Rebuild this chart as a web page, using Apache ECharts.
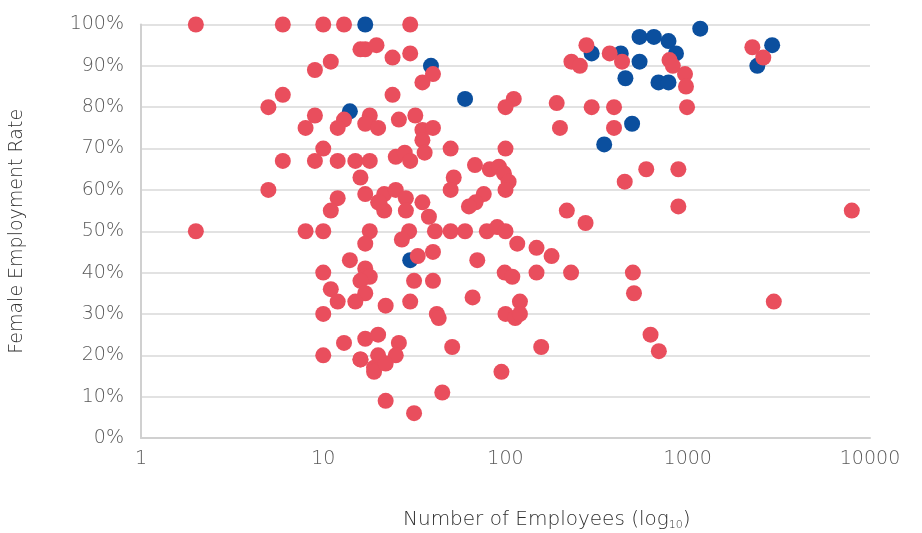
<!DOCTYPE html>
<html>
<head>
<meta charset="utf-8">
<script src="https://cdn.jsdelivr.net/npm/echarts@6/dist/echarts.min.js"></script>
<style>
html,body{margin:0;padding:0;background:#fff;}
#chart{width:922px;height:533px;}
</style>
</head>
<body>
<div id="chart"></div>
<script>
// Number of employees (x) and female employment rate in % (y)
const redEmployees = [2,6,10,13,30,16,17,19.6,11,9,6,5,9,13,18,8,12,17,20,10,6,9,12,15,18,16,5,17,12,20,11,2,8,10,18,17,14,10,17,17,18,16,17,11,12,15,10,13,17,20,10,16,19,20,19,22,
  24,30,40,35,24,111,100,191,278,373,230,256,297,394,199,394,26,32,35,40,35,36,25,28,30,50,100,68,82,92,98,52,50,104,100,217,275,76,68.5,63,35,21.6,25,28.4,21.6,28.4,38,
  29.6,27,41,50,60,79,90,100,116,148,179,33,40,70,31.5,40,99,109,148,229,22,30,66,120,100,113,120,42,43,26,25,22,51,157,95,45,31.5,
  436,794,828,966,978,991,592,888,451,888,2262,2597,7946,500,507,2966,625,694,20.3,16];
const redRate = [100,100,100,100,100,94,94,95,91,89,83,80,78,77,78,75,75,76,75,70,67,67,67,67,67,63,60,59,58,57,55,50,50,50,50,47,43,40,41,39,39,38,35,36,33,33,30,23,24,25,20,19,17,20,16,9,
  92,93,88,86,83,82,80,81,95,93,91,90,80,80,75,75,77,78,74.5,75,72,69,68,69,67,70,70,66,65,65.6,64,63,60,62,60,55,52,59,57,56,57,59,60,58,55,55,53.5,
  50,48,50,50,50,50,51,50,47,46,44,44,45,43,38,38,40,39,40,40,32,33,34,33,30,29,30,30,29,23,20,18,22,22,16,11,6,
  91,91.4,90,88,85,80,65,65,62,56,94.5,92,55,40,35,33,25,21,57,19];
const blueEmployees = [17,14,39,60,30,297,1171,544,652,784,429,862,544,455,691,784,495,348,2905,2409];
const blueRate = [100,79,90,82,43,93,99,97,97,96,93,93,91,87,86,86,76,71,95,90];
const xTicks = ['1','10','100','1000','10000'];

const toPairs = (xs, ys) => xs.map((x, i) => [x, ys[i]]);

const font = "'DejaVu Sans'";
const chart = echarts.init(document.getElementById('chart'), null, {renderer: 'canvas'});
chart.setOption({
  animation: false,
  backgroundColor: '#ffffff',
  grid: {left: 137, right: 52, top: 24.5, bottom: 95, containLabel: false},
  xAxis: {
    type: 'log', logBase: 10, min: 1, max: 10000,
    axisLine: {show: true, lineStyle: {color: '#d0d0d0', width: 2}},
    axisTick: {show: false},
    splitLine: {show: false},
    axisLabel: {
      color: '#5a5a5a', fontSize: 19, fontFamily: font, fontWeight: 200, margin: 12,
      formatter: v => xTicks[Math.round(Math.log10(v))] ?? ''
    }
  },
  yAxis: {
    type: 'value', min: 0, max: 100, interval: 10,
    name: 'Female Employment Rate', nameLocation: 'middle', nameRotate: 90, nameGap: 114,
    nameTextStyle: {color: '#2e2e2e', fontSize: 19, fontFamily: font, fontWeight: 200},
    axisLine: {show: true, lineStyle: {color: '#d0d0d0', width: 2}},
    axisTick: {show: false},
    splitLine: {show: true, lineStyle: {color: '#e2e2e2', width: 2}},
    axisLabel: {color: '#5a5a5a', fontSize: 19, fontFamily: font, fontWeight: 200, margin: 17, formatter: '{value}%'}
  },
  graphic: [{
    type: 'text', left: 403, top: 510,
    style: {
      text: 'Number of Employees (log{sub|10})',
      fill: '#2e2e2e', fontSize: 20, fontFamily: font, fontWeight: 200,
      rich: {sub: {fontSize: 11, fontFamily: font, fontWeight: 200, fill: '#2e2e2e', padding: [11, 0, 0, 0]}}
    }
  }],
  series: [
    {type: 'scatter', name: 'Blue', data: toPairs(blueEmployees, blueRate), symbolSize: 16,
     itemStyle: {color: '#0B4F9E', opacity: 1}},
    {type: 'scatter', name: 'Red', data: toPairs(redEmployees, redRate), symbolSize: 16,
     itemStyle: {color: '#E94E5D', opacity: 1}}
  ]
});
</script>
</body>
</html>
